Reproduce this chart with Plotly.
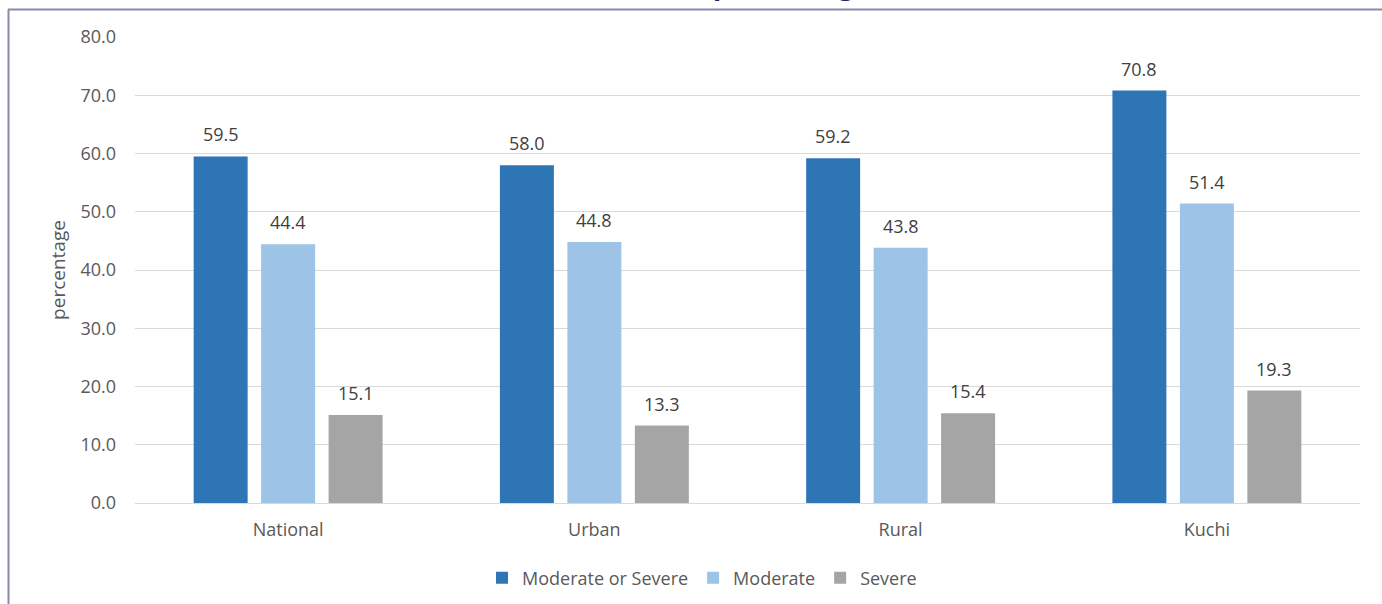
import plotly.graph_objects as go

# Data
categories = ["National", "Urban", "Rural", "Kuchi"]
moderate_or_severe = [59.5, 58.0, 59.2, 70.8]
moderate = [44.4, 44.8, 43.8, 51.4]
severe = [15.1, 13.3, 15.4, 19.3]

series = [
    ("Moderate or Severe", moderate_or_severe, "#2E75B6"),
    ("Moderate", moderate, "#9DC3E6"),
    ("Severe", severe, "#A5A5A5"),
]

W, H = 1382, 604
L, R, T, B = 135, 22, 37, 101
BARGAP = 0.339
GROUPGAP = 0.2
FONT = "Open Sans"
TXT = "#595959"
FS = 18

fig = go.Figure()
for name, vals, color in series:
    fig.add_trace(go.Bar(
        x=categories, y=vals, name=name,
        marker=dict(color=color, line=dict(width=0)),
        hoverinfo="x+y+name",
    ))

# value labels above each bar
n = len(series)
slot = (1 - BARGAP) / n
for si, (name, vals, color) in enumerate(series):
    for ci, v in enumerate(vals):
        fig.add_annotation(
            x=ci + (si - (n - 1) / 2) * slot, y=v,
            xref="x", yref="y",
            text=f"{v:.1f}", showarrow=False,
            yanchor="bottom", yshift=8,
            font=dict(family=FONT, size=FS, color="#404040"),
        )

pw = W - L - R
ph = H - T - B
def px_x(p):
    return (p - L) / pw
def px_y(p):
    return (H - B - p) / ph

# title line (only lower part sits inside the frame)
fig.add_annotation(
    x=px_x(774), y=px_y(4), xref="paper", yref="paper",
    text="<b>(in percentage)</b>", showarrow=False,
    xanchor="center", yanchor="bottom",
    font=dict(family=FONT, size=28, color="#1F2A5C"),
)

# chart frame
fig.add_shape(type="line", xref="paper", yref="paper",
              x0=px_x(8), x1=px_x(1382), y0=px_y(9.5), y1=px_y(9.5),
              line=dict(color="#868BAE", width=2))
fig.add_shape(type="line", xref="paper", yref="paper",
              x0=px_x(8.5), x1=px_x(8.5), y0=px_y(9.5), y1=px_y(604),
              line=dict(color="#868BAE", width=2))

fig.update_layout(
    width=W, height=H,
    margin=dict(l=L, r=R, t=T, b=B, autoexpand=False),
    paper_bgcolor="white", plot_bgcolor="white",
    barmode="group", bargap=BARGAP, bargroupgap=GROUPGAP,
    font=dict(family=FONT, size=FS, color=TXT),
    showlegend=True,
    legend=dict(
        orientation="h", x=px_x(702), y=px_y(578),
        xanchor="center", yanchor="middle",
        font=dict(family=FONT, size=FS, color=TXT),
        itemwidth=30, traceorder="normal",
    ),
    xaxis=dict(
        showgrid=False, showline=True, linecolor="#D9D9D9", linewidth=1,
        ticks="", tickfont=dict(family=FONT, size=FS, color=TXT),
        ticklabelstandoff=10,
    ),
    yaxis=dict(
        range=[0, 80], dtick=10, tickformat=".1f",
        showgrid=True, gridcolor="#D9D9D9", gridwidth=1,
        zeroline=True, zerolinecolor="#D9D9D9", zerolinewidth=1,
        showline=False, ticks="",
        tickfont=dict(family=FONT, size=FS, color=TXT),
        ticklabelstandoff=18,
        title=dict(text="percentage", standoff=9,
                   font=dict(family=FONT, size=19, color=TXT)),
    ),
)

fig.write_html("out.html")
